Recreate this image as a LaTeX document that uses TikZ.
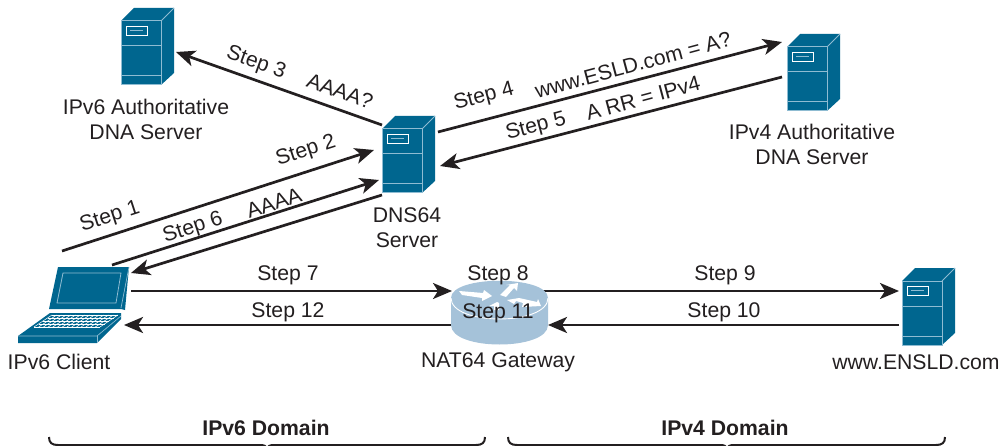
\documentclass[tikz,border=0pt]{standalone}
\usepackage{fontspec}
\setmainfont{Liberation Sans}
\usetikzlibrary{arrows.meta,calc}
\definecolor{srv}{HTML}{00668F}
\definecolor{srvl}{HTML}{8FBCD2}
\definecolor{rtr}{HTML}{A5C2D9}
\definecolor{ink}{HTML}{231F20}
\tikzset{
 link/.style={draw=ink,line width=2.7pt,-{Stealth[length=19pt,width=16pt,inset=5pt]}},
 lbl/.style={font=\fontsize{21.2}{25}\selectfont,text=ink,inner sep=0pt,align=center},
 dom/.style={font=\bfseries\fontsize{21.2}{25}\selectfont,text=ink,inner sep=0pt},
 brace/.style={draw=ink,line width=2pt},
 pics/server/.style={code={
  \fill[srv] (0,0)--(13,-13)--(53,-13)--(53,52)--(40,64)--(0,64)--cycle;
  \draw[srvl,line width=1pt] (0,0)--(40,0)--(40,64)--(0,64)--cycle;
  \draw[srvl,line width=1pt] (40,0)--(53,-13);
  \draw[srvl,line width=1pt] (0,25)--(40,25);
  \draw[srvl,line width=1pt] (0,55)--(40,55);
  \draw[white,line width=.9pt] (5,5) rectangle (26,14);
  \draw[srvl,line width=1pt] (9,9.5)--(22,9.5);
 }}
}
\begin{document}
\begin{tikzpicture}[x=1pt,y=-1pt]
\useasboundingbox (0,0) rectangle (1003,446);
\fill[white] (0,0) rectangle (1003,446);

% servers
\pic at (382,129) {server};
\pic at (121,21) {server};
\pic at (787,47) {server};
\pic at (902,281) {server};

% anchors
\coordinate (a3s) at (382,125);
\coordinate (a3e) at (176,52);
\coordinate (a4s) at (438,132);
\coordinate (a4e) at (782,42);
\coordinate (a5s) at (782,77);
\coordinate (a5e) at (440,166);
\coordinate (a1s) at (62,251);
\coordinate (a1e) at (374,150);
\coordinate (a6s) at (112,265);
\coordinate (a6e) at (379,180);
\coordinate (a6bs) at (382,195);
\coordinate (a6be) at (131,273);
\coordinate (a7s) at (131,291);
\coordinate (a7e) at (452,291);
\coordinate (a9s) at (543,291);
\coordinate (a9e) at (899,291);
\coordinate (a10s) at (899,325);
\coordinate (a10e) at (548,325);
\coordinate (a12s) at (452,325);
\coordinate (a12e) at (124,325);

% laptop
\fill[srv] (58,267)--(129,267)--(125,310)--(121,309)--(49,309)--cycle;
\draw[srvl,line width=.8pt] (63,273)--(121,273)--(116,303)--(57,303)--cycle;
\draw[srvl,line width=.7pt] (129,267)--(121,308);
\fill[srv] (50,313)--(121,313)--(121,319)--(97,343)--(18,343)--(18,336)--cycle;
\draw[srvl,line width=.7pt] (18,336)--(97,336)--(121,316);
\draw[srvl,line width=.7pt] (97,336)--(97,343);
\foreach \t in {0,.0714,...,1.01}{
 \draw[white,line width=.55pt] ($(52,315)!\t!(118,315)$) -- ($(34,327)!\t!(100,327)$);
}
\foreach \t in {0,.25,.5,.75,1}{
 \draw[white,line width=.55pt] ($(52,315)!\t!(34,327)$) -- ($(118,315)!\t!(100,327)$);
}

% arrows
\draw[link] (a3s) -- (a3e);
\draw[link] (a4s) -- (a4e);
\draw[link] (a5s) -- (a5e);
\draw[link] (a1s) -- (a1e);
\draw[link] (a6s) -- (a6e);
\draw[link] (a6bs) -- (a6be);
\draw[link] (a7s) -- (a7e);
\draw[link] (a9s) -- (a9e);
\draw[link] (a10s) -- (a10e);
\draw[link] (a12s) -- (a12e);

% router
\fill[rtr] (451,298) .. controls (451,275) and (548,275) .. (548,298)
  -- (548,325) .. controls (548,351) and (451,351) .. (451,325) -- cycle;
\draw[white,line width=.9pt] (451,298) .. controls (451,326) and (548,326) .. (548,298);
\fill[white] (459,291)--(483,293)--(484,290)--(492,296)--(482,301)--(482,298)--(462,295)--cycle;
\fill[white] (500,295)--(510,285)--(506,285)--(518,283)--(517,291)--(514,288)--(506,297)--cycle;
\fill[white] (507,300)--(519,298)--(537,302)--(538,299)--(541,306)--(522,307)--(523,303)--(516,301)--(514,304)--cycle;
\fill[white] (489,306)--(497,302)--(499,303)--(499,310)--(494,310)--(494,306)--cycle;

% labels
\node[lbl] (auth6) at (146,119) {IPv6 Authoritative\\DNA Server};
\node[lbl] (auth4) at (812,144) {IPv4 Authoritative\\DNA Server};
\node[lbl] (dnsl) at (407,228) {DNS64\\Server};
\node[lbl] (cl) at (59,362) {IPv6 Client};
\node[lbl] (gw) at (498,362) {NAT64 Gateway};
\node[lbl] (en) at (916,362) {www.ENSLD.com};

\node[lbl,rotate=-20] (s3) at (256,63) {Step 3};
\node[lbl,rotate=-20] (q3) at (340,91) {AAAA?};
\node[lbl,rotate=15] (s4) at (484,97) {Step 4};
\node[lbl,rotate=15] (q4) at (633,65) {www.ESLD.com = A?};
\node[lbl,rotate=15] (s5) at (536,127) {Step 5};
\node[lbl,rotate=15] (r5) at (643,98) {A RR = IPv4};
\node[lbl,rotate=18] (s1) at (110,217) {Step 1};
\node[lbl,rotate=18] (s2) at (306,151) {Step 2};
\node[lbl,rotate=18] (s6) at (193,228) {Step 6};
\node[lbl,rotate=18] (q6) at (274,203) {AAAA};
\node[lbl] (s7) at (288,275) {Step 7};
\node[lbl] (s8) at (498,275) {Step 8};
\node[lbl] (s9) at (725,275) {Step 9};
\node[lbl] (s10) at (724,312) {Step 10};
\node[lbl] (s11) at (498,313) {Step 11};
\node[lbl] (s12) at (288,312) {Step 12};
\node[dom] (d6) at (266,428) {IPv6 Domain};
\node[dom] (d4) at (725,428) {IPv4 Domain};

% braces
\draw[brace] (49,437) .. controls (49,443) and (52,445) .. (58,445) -- (260,445) .. controls (264,445) and (266,446) .. (267,448);
\draw[brace] (485,437) .. controls (485,443) and (482,445) .. (476,445) -- (274,445) .. controls (270,445) and (268,446) .. (267,448);
\draw[brace] (508,437) .. controls (508,443) and (511,445) .. (517,445) -- (720,445) .. controls (724,445) and (726,446) .. (727,448);
\draw[brace] (945,437) .. controls (945,443) and (942,445) .. (936,445) -- (734,445) .. controls (730,445) and (728,446) .. (727,448);
\end{tikzpicture}
\end{document}
